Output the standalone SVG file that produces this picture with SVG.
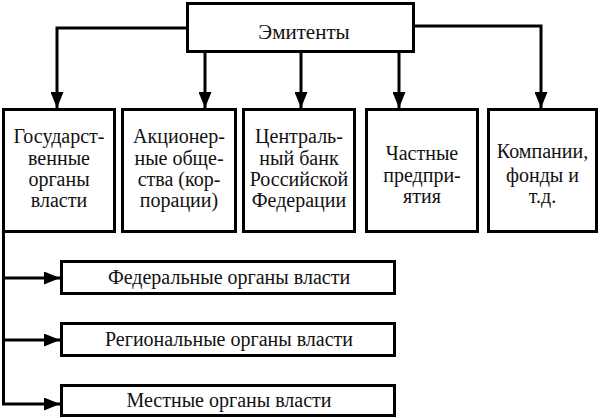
<svg xmlns="http://www.w3.org/2000/svg" width="601" height="418" viewBox="0 0 601 418">
<style>
.box{fill:#fff;stroke:#000;stroke-width:3}
.t{font-family:"Liberation Serif","Times New Roman",serif;font-size:20px;fill:#111;text-anchor:middle}
.c{fill:none;stroke:#000;stroke-width:3}
</style>
<defs>
<marker id="ah" markerUnits="userSpaceOnUse" markerWidth="16" markerHeight="13" refX="16" refY="6.5" orient="auto">
<path d="M0,0 L16,6.5 L0,13 z" fill="#000"/>
</marker>
</defs>
<rect width="601" height="418" fill="#fff"/>
<g id="connectors">
<path class="c" d="M187,28 H57 V108" marker-end="url(#ah)"/>
<path class="c" d="M414,26 H541 V108" marker-end="url(#ah)"/>
<path class="c" d="M205,52 V108" marker-end="url(#ah)"/>
<path class="c" d="M301,52 V108" marker-end="url(#ah)"/>
<path class="c" d="M399,52 V108" marker-end="url(#ah)"/>
<path class="c" d="M3.5,232 V404 H60" marker-end="url(#ah)"/>
<path class="c" d="M3.5,278 H60" marker-end="url(#ah)"/>
<path class="c" d="M3.5,340 H60" marker-end="url(#ah)"/>
</g>
<g id="emitents">
<rect class="box" x="187.5" y="3.5" width="226" height="48"/>
<text class="t" x="304" y="39" style="font-size:21px">Эмитенты</text>
</g>
<g id="gov">
<rect class="box" x="3.5" y="109.5" width="111" height="122"/>
<text class="t" x="59" y="143">Государст-</text>
<text class="t" x="59" y="165">венные</text>
<text class="t" x="59" y="186">органы</text>
<text class="t" x="59" y="207">власти</text>
</g>
<g id="joint">
<rect class="box" x="122.5" y="109.5" width="113" height="122"/>
<text class="t" x="179" y="143">Акционер-</text>
<text class="t" x="179" y="165">ные обще-</text>
<text class="t" x="179" y="186">ства (кор-</text>
<text class="t" x="179" y="207">порации)</text>
</g>
<g id="cbr">
<rect class="box" x="243.5" y="109.5" width="111" height="122"/>
<text class="t" x="299" y="143">Централь-</text>
<text class="t" x="299" y="165">ный банк</text>
<text class="t" x="299" y="186">Российской</text>
<text class="t" x="299" y="207">Федерации</text>
</g>
<g id="private">
<rect class="box" x="366.5" y="109.5" width="111" height="122"/>
<text class="t" x="422" y="160">Частные</text>
<text class="t" x="422" y="181.5">предпри-</text>
<text class="t" x="422" y="203">ятия</text>
</g>
<g id="companies">
<rect class="box" x="488.5" y="109.5" width="108" height="122"/>
<text class="t" x="542.5" y="158">Компании,</text>
<text class="t" x="542.5" y="181.5">фонды и</text>
<text class="t" x="542.5" y="203">т.д.</text>
</g>
<g id="federal">
<rect class="box" x="61.5" y="261.5" width="333" height="32"/>
<text class="t" x="229" y="284">Федеральные органы власти</text>
</g>
<g id="regional">
<rect class="box" x="61.5" y="323.5" width="333" height="32"/>
<text class="t" x="229" y="346">Региональные органы власти</text>
</g>
<g id="local">
<rect class="box" x="61.5" y="385.5" width="333" height="30"/>
<text class="t" x="229" y="407">Местные органы власти</text>
</g>
</svg>
